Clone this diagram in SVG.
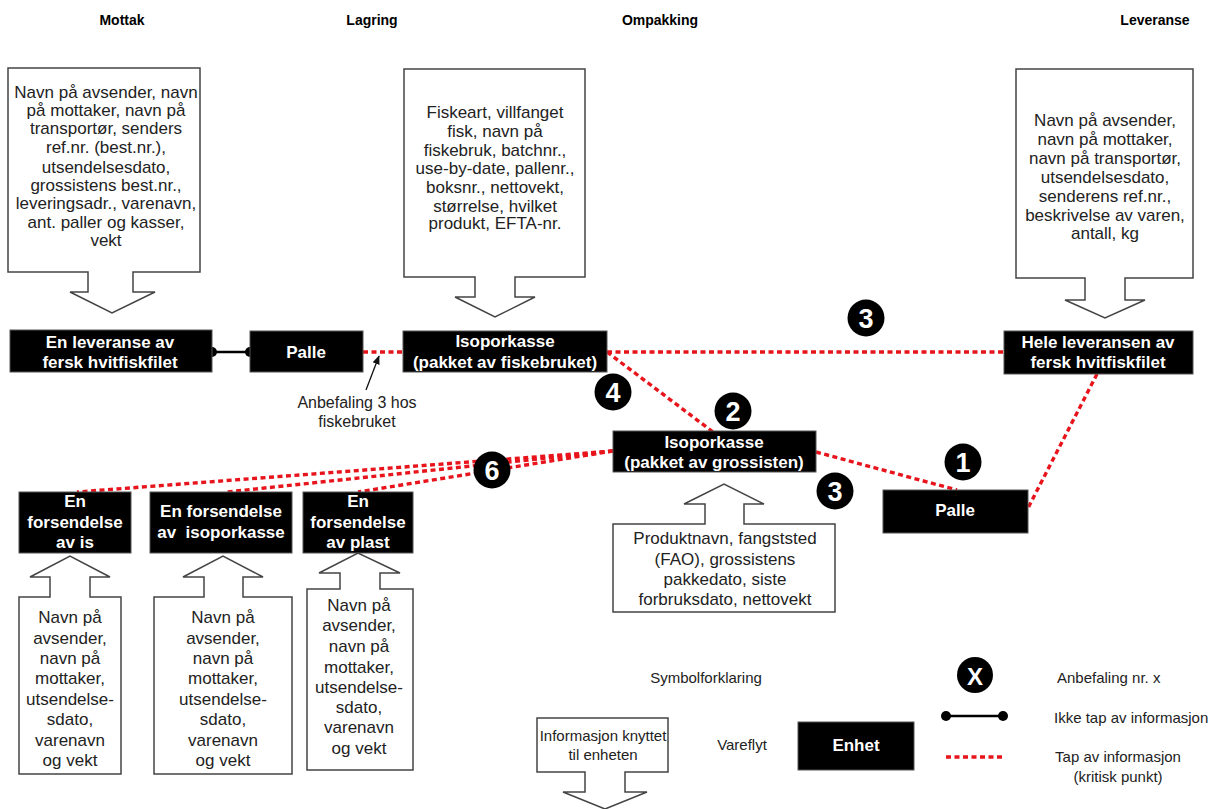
<svg xmlns="http://www.w3.org/2000/svg" width="1211" height="809" viewBox="0 0 1211 809">
<style>
text{font-family:"Liberation Sans",Arial,sans-serif;}
.hdr{font-size:14px;font-weight:bold;fill:#000;text-anchor:middle;}
.info{font-size:17px;fill:#222;text-anchor:middle;}
.callout{fill:#fff;stroke:#444;stroke-width:1.5;}
.unit{fill:#000;stroke:#555;stroke-width:1;}
.ut{font-size:17px;font-weight:bold;fill:#fff;text-anchor:middle;white-space:pre;}
.loss{stroke:#e8141c;stroke-width:3.4;stroke-dasharray:5 3.5;fill:none;}
.ok{stroke:#000;stroke-width:2.5;fill:none;}
.badge{fill:#000;}
.bt{font-size:27px;font-weight:bold;fill:#fff;text-anchor:middle;}
.lg{font-size:16px;fill:#222;}
.lgs{font-size:15px;fill:#222;}
</style>
<defs>
<marker id="ah" viewBox="0 0 10 10" refX="9" refY="5" markerWidth="7" markerHeight="7" orient="auto">
<path d="M0,1 L10,5 L0,9 Z" fill="#111"/>
</marker>
</defs>
<rect width="1211" height="809" fill="#fff"/>

<g id="headers">
<text class="hdr" x="122" y="25">Mottak</text>
<text class="hdr" x="372" y="25">Lagring</text>
<text class="hdr" x="660" y="25">Ompakking</text>
<text class="hdr" x="1155" y="25">Leveranse</text>
</g>

<g id="connectors">
<line class="ok" x1="212" y1="352" x2="250" y2="352"/>
<circle cx="212" cy="352" r="5" fill="#000"/>
<circle cx="250" cy="352" r="5" fill="#000"/>
<line class="loss" x1="363" y1="352" x2="403" y2="352"/>
<line class="loss" x1="607" y1="352" x2="1004" y2="352"/>
<line class="loss" x1="607" y1="352" x2="713" y2="432"/>
<line class="loss" x1="816" y1="452" x2="957" y2="490"/>
<line class="loss" x1="1097" y1="374" x2="1027" y2="510"/>
<line class="loss" x1="613" y1="451" x2="77" y2="492"/>
<line class="loss" x1="613" y1="451" x2="227" y2="492"/>
<line class="loss" x1="613" y1="451" x2="358" y2="492"/>
<line x1="366" y1="390" x2="379" y2="356" stroke="#111" stroke-width="1.3" marker-end="url(#ah)"/>
</g>

<g id="info-mottak">
<path class="callout" d="M8,68 H200 V272 H133 V292 H155 L112,313 L70,292 H88 V272 H8 Z"/>
<text class="info" x="106" y="98">Navn på avsender, navn</text>
<text class="info" x="106" y="116">på mottaker, navn på</text>
<text class="info" x="106" y="134">transportør, senders</text>
<text class="info" x="106" y="153">ref.nr. (best.nr.),</text>
<text class="info" x="106" y="173">utsendelsesdato,</text>
<text class="info" x="106" y="191">grossistens best.nr.,</text>
<text class="info" x="106" y="209">leveringsadr., varenavn,</text>
<text class="info" x="106" y="228">ant. paller og kasser,</text>
<text class="info" x="106" y="246">vekt</text>
</g>

<g id="info-lagring">
<path class="callout" d="M404,69 H585 V277 H515 V297 H535 L495,317 L455,297 H475 V277 H404 Z"/>
<text class="info" x="495" y="118">Fiskeart, villfanget</text>
<text class="info" x="495" y="137">fisk, navn på</text>
<text class="info" x="495" y="156">fiskebruk, batchnr.,</text>
<text class="info" x="495" y="174">use-by-date, pallenr.,</text>
<text class="info" x="495" y="193">boksnr., nettovekt,</text>
<text class="info" x="495" y="212">størrelse, hvilket</text>
<text class="info" x="495" y="229">produkt, EFTA-nr.</text>
</g>

<g id="info-leveranse">
<path class="callout" d="M1016,69 H1193 V278 H1125 V300 H1145 L1105,318 L1065,300 H1085 V278 H1016 Z"/>
<text class="info" x="1105" y="126">Navn på avsender,</text>
<text class="info" x="1105" y="145">navn på mottaker,</text>
<text class="info" x="1105" y="164">navn på transportør,</text>
<text class="info" x="1105" y="183">utsendelsesdato,</text>
<text class="info" x="1105" y="202">senderens ref.nr.,</text>
<text class="info" x="1105" y="221">beskrivelse av varen,</text>
<text class="info" x="1105" y="239">antall, kg</text>
</g>

<g id="node-leveranse">
<rect class="unit" x="10" y="330" width="202" height="42"/>
<text class="ut" x="110" y="348">En leveranse av</text>
<text class="ut" x="110" y="368">fersk hvitfiskfilet</text>
</g>

<g id="node-palle1">
<rect class="unit" x="250" y="331" width="113" height="41"/>
<text class="ut" x="306" y="358">Palle</text>
</g>

<g id="node-iso-fiskebruk">
<rect class="unit" x="403" y="331" width="204" height="41"/>
<text class="ut" x="505" y="347">Isoporkasse</text>
<text class="ut" x="505" y="368">(pakket av fiskebruket)</text>
</g>

<g id="node-hele">
<rect class="unit" x="1004" y="331" width="189" height="43"/>
<text class="ut" x="1098" y="348">Hele leveransen av</text>
<text class="ut" x="1098" y="368">fersk hvitfiskfilet</text>
</g>

<g id="node-iso-grossist">
<rect class="unit" x="613" y="431" width="203" height="41"/>
<text class="ut" x="714" y="448">Isoporkasse</text>
<text class="ut" x="714" y="468">(pakket av grossisten)</text>
</g>

<g id="node-palle2">
<rect class="unit" x="883" y="490" width="145" height="43"/>
<text class="ut" x="955" y="516">Palle</text>
</g>

<g id="node-fors-is">
<rect class="unit" x="19" y="492" width="112" height="61"/>
<text class="ut" x="75" y="507">En</text>
<text class="ut" x="75" y="528">forsendelse</text>
<text class="ut" x="75" y="548">av is</text>
</g>

<g id="node-fors-iso">
<rect class="unit" x="150" y="492" width="142" height="61"/>
<text class="ut" x="221" y="517">En forsendelse</text>
<text class="ut" x="221" y="538">av  isoporkasse</text>
</g>

<g id="node-fors-plast">
<rect class="unit" x="303" y="492" width="110" height="61"/>
<text class="ut" x="358" y="507">En</text>
<text class="ut" x="358" y="528">forsendelse</text>
<text class="ut" x="358" y="548">av plast</text>
</g>

<g id="info-grossist">
<path class="callout" d="M613,612 H835 V524 H744 V504 H764 L724,484 L684,504 H705 V524 H613 Z"/>
<text class="info" x="725" y="544">Produktnavn, fangststed</text>
<text class="info" x="725" y="565">(FAO), grossistens</text>
<text class="info" x="725" y="585">pakkedato, siste</text>
<text class="info" x="725" y="605">forbruksdato, nettovekt</text>
</g>

<g id="info-is">
<path class="callout" d="M19,774 H121 V597 H90 V577 H110 L70,556 L30,577 H50 V597 H19 Z"/>
<text class="info" x="70" y="623">Navn på</text>
<text class="info" x="70" y="644">avsender,</text>
<text class="info" x="70" y="664">navn på</text>
<text class="info" x="70" y="684">mottaker,</text>
<text class="info" x="70" y="705">utsendelse-</text>
<text class="info" x="70" y="725">sdato,</text>
<text class="info" x="70" y="746">varenavn</text>
<text class="info" x="70" y="766">og vekt</text>
</g>

<g id="info-iso">
<path class="callout" d="M154,774 H292 V597 H243 V577 H263 L223,556 L183,577 H204 V597 H154 Z"/>
<text class="info" x="223" y="623">Navn på</text>
<text class="info" x="223" y="644">avsender,</text>
<text class="info" x="223" y="664">navn på</text>
<text class="info" x="223" y="684">mottaker,</text>
<text class="info" x="223" y="705">utsendelse-</text>
<text class="info" x="223" y="725">sdato,</text>
<text class="info" x="223" y="746">varenavn</text>
<text class="info" x="223" y="766">og vekt</text>
</g>

<g id="info-plast">
<path class="callout" d="M307,770 H413 V589 H380 V573 H400 L358,553 L319,573 H340 V589 H307 Z"/>
<text class="info" x="359" y="611">Navn på</text>
<text class="info" x="359" y="631">avsender,</text>
<text class="info" x="359" y="652">navn på</text>
<text class="info" x="359" y="673">mottaker,</text>
<text class="info" x="359" y="693">utsendelse-</text>
<text class="info" x="359" y="713">sdato,</text>
<text class="info" x="359" y="733">varenavn</text>
<text class="info" x="359" y="754">og vekt</text>
</g>

<g id="note-anbefaling3">
<text class="lg" x="357" y="408" text-anchor="middle">Anbefaling 3 hos</text>
<text class="lg" x="357" y="427" text-anchor="middle">fiskebruket</text>
</g>

<g id="badges">
<circle class="badge" cx="866" cy="318" r="18.5"/><text class="bt" x="866" y="328">3</text>
<circle class="badge" cx="613" cy="392" r="18.5"/><text class="bt" x="613" y="402">4</text>
<circle class="badge" cx="733" cy="411" r="18.5"/><text class="bt" x="733" y="421">2</text>
<circle class="badge" cx="963" cy="462" r="18.5"/><text class="bt" x="963" y="472">1</text>
<circle class="badge" cx="835" cy="491" r="18.5"/><text class="bt" x="835" y="501">3</text>
<circle class="badge" cx="492" cy="470" r="18.5"/><text class="bt" x="492" y="480">6</text>
</g>

<g id="legend">
<text class="lgs" x="706" y="683" text-anchor="middle">Symbolforklaring</text>
<circle class="badge" cx="975" cy="675" r="18"/><text class="bt" x="975" y="685" style="font-size:24px">X</text>
<text class="lgs" x="1057" y="683">Anbefaling nr. x</text>
<line class="ok" x1="946" y1="716" x2="1003" y2="716"/>
<circle cx="946" cy="716" r="5" fill="#000"/>
<circle cx="1003" cy="716" r="5" fill="#000"/>
<text class="lgs" x="1054" y="723">Ikke tap av informasjon</text>
<line class="loss" x1="946" y1="757" x2="1003" y2="757"/>
<text class="lgs" x="1118" y="762" text-anchor="middle">Tap av informasjon</text>
<text class="lgs" x="1118" y="782" text-anchor="middle">(kritisk punkt)</text>
<rect class="unit" x="798" y="722" width="116" height="48"/>
<text class="ut" x="856" y="751">Enhet</text>
<text class="lgs" x="742" y="750" text-anchor="middle">Vareflyt</text>
<path class="callout" d="M537,718 H668 V772 H625 V792 H647 L605,809 L563,792 H585 V772 H537 Z"/>
<text class="lgs" x="603" y="741" text-anchor="middle">Informasjon knyttet</text>
<text class="lgs" x="603" y="760" text-anchor="middle">til enheten</text>
</g>
</svg>
